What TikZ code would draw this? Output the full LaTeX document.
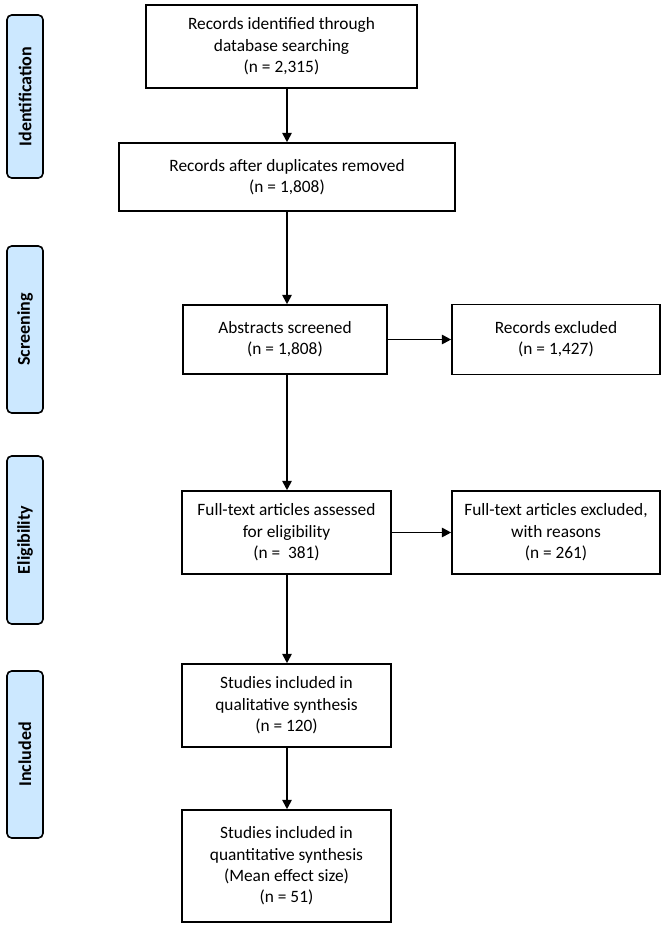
\documentclass[tikz,border=0pt]{standalone}
\usepackage{fontspec}
\setmainfont{Carlito}
\usetikzlibrary{arrows.meta}
\definecolor{phasefill}{RGB}{204,232,255}
\tikzset{
	box/.style={draw,line width=1.2pt,align=center,inner sep=2pt,font=\fontsize{13}{16}\selectfont}
}
\tikzset{
	phase/.style={draw,fill=phasefill,rounded corners=3.5pt,rotate=90,line width=1.2pt,minimum height=27pt,inner sep=0pt,font=\bfseries\fontsize{13.5}{16}\selectfont}
}
\tikzset{
	arr/.style={-{Triangle[length=7pt,width=7pt]},line width=1.4pt}
}

\begin{document}
\begin{tikzpicture}[x=0.75pt,y=-0.75pt]
		\useasboundingbox (0,0) rectangle (666,926);
		%phases on the left
		\node[phase,minimum width=122.25pt] (P1) at (25,96.5) {Identification};
		\node[phase,minimum width=125.25pt] (P2) at (25,329.5) {Screening};
		\node[phase,minimum width=126pt] (P3) at (25,540) {Eligibility};
		\node[phase,minimum width=125.25pt] (P4) at (25,754.5) {Included};
		%main column
		\node[box,minimum width=203.25pt,minimum height=62.25pt] (B1) at (281.5,46.5) {Records identified through\\database searching\\(n = 2,315)};
		\node[box,minimum width=252pt,minimum height=51pt] (B2) at (287,177) {Records after duplicates removed\\(n = 1,808)};
		\node[box,minimum width=153pt,minimum height=51.75pt] (B3) at (285,339.5) {Abstracts screened\\(n = 1,808)};
		\node[box,minimum width=156.75pt,minimum height=62.25pt] (B5) at (286.5,532.5) {Full-text articles assessed\\for eligibility\\(n =\ \ 381)};
		\node[box,minimum width=156.75pt,minimum height=62.25pt] (B7) at (286.5,705.5) {Studies included in\\qualitative synthesis\\(n = 120)};
		\node[box,minimum width=156.75pt,minimum height=84pt] (B8) at (286.5,866) {Studies included in\\quantitative synthesis\\(Mean effect size)\\(n = 51)};
		%excluded
		\node[box,minimum width=156pt,minimum height=52.5pt] (B4) at (556,339.5) {Records excluded\\(n = 1,427)};
		\node[box,minimum width=156pt,minimum height=62.25pt] (B6) at (556,532.5) {Full-text articles excluded,\\with reasons\\(n = 261)};
		%arrows
		\draw[arr] (B2.north |- B1.south) -- (B2.north);
		\draw[arr] (B2.south) -- (B2.south |- B3.north);
		\draw[arr] (B2.south |- B3.south) -- (B2.south |- B5.north);
		\draw[arr] (B2.south |- B5.south) -- (B2.south |- B7.north);
		\draw[arr] (B2.south |- B7.south) -- (B2.south |- B8.north);
		\draw[arr] (B3.east) -- (B3.east -| B4.west);
		\draw[arr] (B5.east) -- (B5.east -| B6.west);
	\end{tikzpicture}
\end{document}
